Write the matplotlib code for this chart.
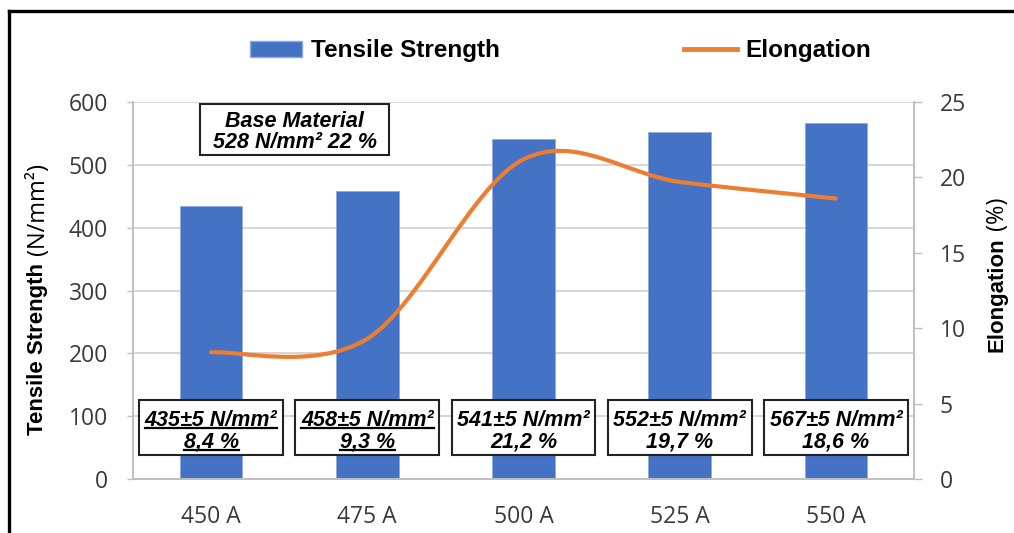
import matplotlib
matplotlib.use("Agg")
import matplotlib.pyplot as plt
from matplotlib import font_manager
from matplotlib.patches import Patch, Rectangle, PathPatch
from matplotlib.lines import Line2D
from matplotlib.path import Path
import numpy as np

currents = ["450 A", "475 A", "500 A", "525 A", "550 A"]
tensile = [435, 458, 541, 552, 567]
elongation = [8.4, 9.3, 21.2, 19.7, 18.6]
tensile_err = 5
underlined = [True, True, False, False, False]
base_tensile = 528
base_elong = 22

names = {f.name for f in font_manager.fontManager.ttflist}
narrow = "Liberation Sans Narrow" if "Liberation Sans Narrow" in names else "Liberation Sans"
tick_font = "Open Sans"
box_font = "Liberation Sans"

blue = "#4472C4"
orange = "#ED7D31"
grey = "#BFBFBF"

fig = plt.figure(figsize=(10.14, 5.33), dpi=100)
ax = fig.add_axes([133 / 1014, 1 - 479 / 533, (914 - 133) / 1014, (479 - 102) / 533])
ax2 = ax.twinx()

x = np.arange(len(currents))
ax.bar(x, tensile, width=0.4, color=blue, edgecolor="#8EA9DB", linewidth=0.6, zorder=2)
ax.set_xlim(-0.5, len(currents) - 0.5)
ax.set_ylim(0, 600)
ax.set_yticks(range(0, 601, 100))
ax.set_xticks(x)
ax.set_xticklabels(currents)
ax.grid(axis="y", color="#D0D0D0", linewidth=1.2, zorder=0)
ax.set_axisbelow(True)
ax.tick_params(axis="x", length=0, pad=19, labelsize=16.5, labelcolor="#3A3A3A")
ax.tick_params(axis="y", length=4, width=1.0, color=grey, pad=14, labelsize=16.5, labelcolor="#3A3A3A")
for lab in ax.get_xticklabels() + ax.get_yticklabels():
    lab.set_family(tick_font)

ax2.set_ylim(0, 25)
ax2.set_yticks(range(0, 26, 5))
ax2.tick_params(axis="y", length=6, width=1.0, color=grey, pad=12.5, labelsize=16.5, labelcolor="#3A3A3A")
for lab in ax2.get_yticklabels():
    lab.set_family(tick_font)

for a in (ax, ax2):
    a.spines["top"].set_visible(False)
    for s in ("left", "right", "bottom"):
        a.spines[s].set_color(grey)
        a.spines[s].set_linewidth(1.2)

# smoothed elongation curve (cubic bezier through the points)
pts = np.column_stack([x, elongation]).astype(float)
verts = [tuple(pts[0])]
codes = [Path.MOVETO]
n = len(pts)
for i in range(n - 1):
    p0 = pts[max(i - 1, 0)]
    p1 = pts[i]
    p2 = pts[i + 1]
    p3 = pts[min(i + 2, n - 1)]
    c1 = p1 + (p2 - p0) / 6
    c2 = p2 - (p3 - p1) / 6
    verts += [tuple(c1), tuple(c2), tuple(p2)]
    codes += [Path.CURVE4] * 3
ax2.add_patch(PathPatch(Path(verts, codes), facecolor="none", edgecolor=orange,
                        linewidth=3.0, capstyle="round", zorder=3))

# value boxes
box_w = 0.92
lines_under = []
txt = dict(ha="center", va="baseline", fontsize=15.5, fontweight="bold", style="italic",
           family=box_font, zorder=5)
for i in range(n):
    ax.add_patch(Rectangle((x[i] - box_w / 2, 38), box_w, 87, facecolor="white",
                           edgecolor="#222222", linewidth=1.5, zorder=4))
    t1 = ax.text(x[i], 85, f"{tensile[i]}±{tensile_err} N/mm²", **txt)
    t2 = ax.text(x[i], 50, f"{elongation[i]:.1f} %".replace(".", ","), **txt)
    if underlined[i]:
        lines_under += [t1, t2]

# base material box
ax.add_patch(Rectangle((-0.07, 516), 1.21, 81, facecolor="white", edgecolor="#222222",
                       linewidth=1.5, zorder=4))
ax.text(0.535, 561, "Base Material", **txt)
ax.text(0.535, 527, f"{base_tensile} N/mm² {base_elong} %", **txt)

# axis titles
fig.text(38 / 1014, 1 - 435 / 533, "Tensile Strength", rotation=90, ha="center", va="bottom",
         fontsize=16, fontweight="bold", family="Liberation Sans")
fig.text(38 / 1014, 1 - 255 / 533, "(N/mm²)", rotation=90, ha="center", va="bottom",
         fontsize=17, family=tick_font)
fig.text(997 / 1014, 1 - 352 / 533, "Elongation", rotation=90, ha="center", va="bottom",
         fontsize=16, fontweight="bold", family="Liberation Sans")
fig.text(997 / 1014, 1 - 230 / 533, "(%)", rotation=90, ha="center", va="bottom",
         fontsize=17, family=tick_font)

# legend
handles = [Patch(facecolor=blue, edgecolor="#8EA9DB"),
           Line2D([], [], color=orange, linewidth=3.5)]
fig.legend(handles, ["Tensile Strength", "Elongation"], ncol=2, frameon=False,
           loc="center left", bbox_to_anchor=(250 / 1014, 1 - 51 / 533), borderpad=0,
           borderaxespad=0, handlelength=2.15, handleheight=0.65, handletextpad=0.35,
           columnspacing=7.6, prop={"family": narrow, "weight": "bold", "size": 17.5})

# outer frame
fig.add_artist(Line2D([9 / 1014, 9 / 1014], [0, 1 - 11 / 533], color="black", linewidth=2.4))
fig.add_artist(Line2D([9 / 1014, 1], [1 - 11 / 533, 1 - 11 / 533], color="black", linewidth=2.4))

# underline the first two labels
fig.canvas.draw()
renderer = fig.canvas.get_renderer()
inv = ax.transData.inverted()
for t in lines_under:
    bb = t.get_window_extent(renderer)
    (x0, _), (x1, _) = inv.transform([(bb.x0, 0), (bb.x1, 0)])
    y = t.get_position()[1] - 4.5
    ax.add_line(Line2D([x0, x1], [y, y], color="black", linewidth=1.6, zorder=6))

fig.savefig("out.png", dpi=100)
